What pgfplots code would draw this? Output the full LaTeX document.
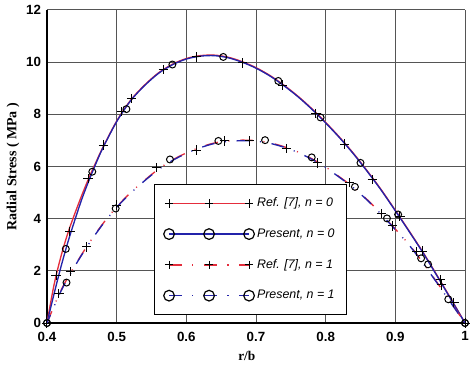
\documentclass[border=0pt]{standalone}
\usepackage{fontspec}
\setmainfont{Liberation Sans}
\newfontfamily\serifbf{Liberation Serif}
\usepackage{pgfplots}
\pgfplotsset{compat=1.18}
\definecolor{redc}{RGB}{228,45,60}
\definecolor{bluec}{RGB}{35,35,170}
\definecolor{gridc}{RGB}{85,85,85}
\pgfplotsset{
  threemark/.style={legend image code/.code={%
    \draw[##1] plot coordinates {(0pt,0pt) (30pt,0pt) (60pt,0pt)};}},
  dd/.style={dash pattern=on 9.5pt off 8pt on 0.8pt off 8pt},
}
\begin{document}
\begin{tikzpicture}
\begin{axis}[
  scale only axis, width=313.5pt, height=234.75pt,
  xmin=0.4, xmax=1, ymin=0, ymax=12,
  xtick={0.4,0.5,...,1.0}, ytick={0,2,...,12},
  grid=major, major grid style={gridc, line width=0.75pt},
  axis x line*=bottom, axis y line*=left,
  axis line style={black, line width=1.8pt, -},
  tick style={draw=none},
  /pgf/number format/assume math mode=true,
  ticklabel style={font=\bfseries\fontsize{10}{12}\selectfont},
  xticklabel style={yshift=-3pt},
  yticklabel style={xshift=-1pt},
  xlabel={\serifbf\bfseries r/b},
  ylabel={\serifbf\bfseries Radial Stress ( MPa )},
  every axis x label/.style={at={(rel axis cs:0.478,-0.088)}, anchor=north, inner sep=0pt, font=\fontsize{10}{12}\selectfont},
  every axis y label/.style={at={(rel axis cs:-0.0813,0.5)}, anchor=center, rotate=90, inner sep=0pt, font=\fontsize{10.5}{12}\selectfont},
  legend style={at={(rel axis cs:0.256,0.444)}, anchor=north west, draw=black, line width=0.6pt,
    fill=white, font=\itshape\fontsize{9.3}{11}\selectfont, inner xsep=7pt, inner ysep=8pt,
    row sep=11pt, /tikz/every even column/.append style={column sep=4pt}},
  legend cell align=left,
]
% lines
\addplot[redc, line width=1pt, smooth, forget plot] coordinates {
(0.40,0) (0.41,1.45) (0.42,2.55) (0.43,3.45) (0.44,4.2) (0.45,4.9) (0.46,5.55) (0.47,6.15) (0.48,6.72)
(0.50,7.74) (0.52,8.54) (0.54,9.12) (0.56,9.59) (0.58,9.92) (0.60,10.14) (0.62,10.25) (0.64,10.27)
(0.66,10.19) (0.68,10.02) (0.70,9.79) (0.72,9.49) (0.74,9.12) (0.76,8.70) (0.78,8.22) (0.80,7.69)
(0.82,7.12) (0.84,6.50) (0.86,5.82) (0.88,5.10) (0.90,4.32) (0.92,3.52) (0.94,2.70) (0.96,1.82) (0.98,0.92) (1.0,0)};
\addplot[bluec, line width=1pt, smooth, forget plot] coordinates {
(0.40,0) (0.41,1.1) (0.42,2.15) (0.43,3.1) (0.44,3.95) (0.45,4.75) (0.46,5.45) (0.47,6.1) (0.48,6.7)
(0.50,7.72) (0.52,8.52) (0.54,9.1) (0.56,9.57) (0.58,9.9) (0.60,10.12) (0.62,10.23) (0.64,10.25)
(0.66,10.17) (0.68,10.0) (0.70,9.77) (0.72,9.47) (0.74,9.1) (0.76,8.68) (0.78,8.2) (0.80,7.67)
(0.82,7.1) (0.84,6.48) (0.86,5.8) (0.88,5.08) (0.90,4.3) (0.92,3.5) (0.94,2.68) (0.96,1.8) (0.98,0.9) (1.0,0)};
\addplot[redc, line width=1pt, smooth, dd, forget plot] coordinates {
(0.40,0) (0.42,1.25) (0.44,2.2) (0.46,3.05) (0.48,3.8) (0.50,4.45) (0.52,5.0) (0.54,5.47) (0.56,5.9)
(0.58,6.25) (0.60,6.52) (0.62,6.74) (0.64,6.9) (0.66,6.98) (0.68,7.01) (0.70,6.99) (0.72,6.91)
(0.74,6.76) (0.76,6.56) (0.78,6.3) (0.80,5.98) (0.82,5.6) (0.84,5.2) (0.86,4.72) (0.88,4.18)
(0.90,3.6) (0.92,3.0) (0.94,2.3) (0.96,1.55) (0.98,0.78) (1.0,0)};
\addplot[bluec, line width=1pt, smooth, dd, dash phase=3pt, forget plot] coordinates {
(0.40,0) (0.42,1.22) (0.44,2.18) (0.46,3.03) (0.48,3.78) (0.50,4.43) (0.52,4.98) (0.54,5.45) (0.56,5.88)
(0.58,6.23) (0.60,6.5) (0.62,6.72) (0.64,6.88) (0.66,6.96) (0.68,6.99) (0.70,6.97) (0.72,6.89)
(0.74,6.74) (0.76,6.54) (0.78,6.28) (0.80,5.96) (0.82,5.58) (0.84,5.18) (0.86,4.7) (0.88,4.16)
(0.90,3.58) (0.92,2.98) (0.94,2.28) (0.96,1.53) (0.98,0.76) (1.0,0)};
% markers
\addplot[only marks, mark=+, mark size=3.5pt, black, line width=0.75pt, forget plot] coordinates {
(0.4,0) (0.413,1.81) (0.433,3.52) (0.459,5.54) (0.481,6.82) (0.507,8.10) (0.5215,8.61) (0.567,9.72)
(0.615,10.20) (0.681,9.97) (0.738,9.12) (0.786,8.03) (0.8275,6.86) (0.867,5.50) (0.9065,4.10)
(0.939,2.76) (0.965,1.67) (0.984,0.78) (1,0)};
\addplot[only marks, mark=o, mark size=2.6pt, black, line width=0.75pt, forget plot] coordinates {
(0.4,0) (0.427,2.84) (0.465,5.80) (0.514,8.20) (0.580,9.91) (0.653,10.20) (0.732,9.28) (0.7927,7.88)
(0.850,6.14) (0.904,4.16) (0.947,2.25) (1,0)};
\addplot[only marks, mark=+, mark size=3.5pt, black, line width=0.75pt, forget plot] coordinates {
(0.4,0) (0.417,1.12) (0.434,1.97) (0.457,2.92) (0.500,4.52) (0.557,5.95) (0.615,6.63) (0.655,6.98)
(0.691,6.98) (0.744,6.69) (0.788,6.14) (0.834,5.38) (0.880,4.20) (0.896,3.72) (0.931,2.73) (0.966,1.46) (1,0)};
\addplot[only marks, mark=o, mark size=2.6pt, black, line width=0.75pt, forget plot] coordinates {
(0.4,0) (0.428,1.55) (0.4986,4.39) (0.5765,6.27) (0.646,6.98) (0.713,7.01) (0.780,6.35) (0.842,5.22)
(0.888,4.01) (0.937,2.48) (0.976,0.91) (1,0)};
% legend
\addlegendimage{threemark, redc, line width=1pt, mark=+, mark size=3.2pt, mark options={black, solid, line width=0.6pt}}
\addlegendentry{Ref. [7], n = 0}
\addlegendimage{threemark, bluec, line width=1pt, mark=o, mark size=4pt, mark options={black, solid, line width=0.9pt}}
\addlegendentry{Present, n = 0}
\addlegendimage{threemark, redc, line width=1pt, dd, mark=+, mark size=3.2pt, mark options={black, solid, line width=0.6pt}}
\addlegendentry{Ref. [7], n = 1}
\addlegendimage{threemark, bluec, line width=1pt, dd, mark=o, mark size=4pt, mark options={black, solid, line width=0.9pt}}
\addlegendentry{Present, n = 1}
\coordinate (bl) at (rel axis cs:0,0);
\coordinate (tr) at (rel axis cs:1,1);
\end{axis}
\pgfresetboundingbox
\path ([shift={(-35.25pt,-30.75pt)}]bl) rectangle ([shift={(6.75pt,7.5pt)}]tr);
\end{tikzpicture}
\end{document}
